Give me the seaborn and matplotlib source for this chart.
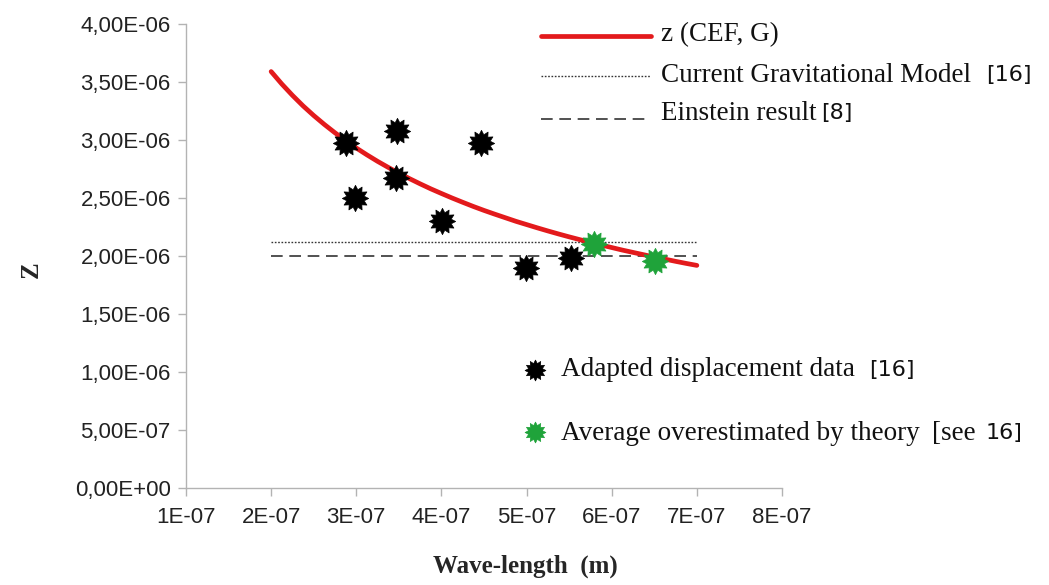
import matplotlib
matplotlib.use("Agg")
import matplotlib.pyplot as plt
from matplotlib.lines import Line2D
from matplotlib.path import Path
from matplotlib.ticker import FuncFormatter, MultipleLocator
import numpy as np
import seaborn as sns

# Measured displacement data (wavelength in m, z dimensionless)
data_wavelength = [2.88e-7, 2.98e-7, 3.48e-7, 3.47e-7, 4.01e-7, 4.46e-7, 4.99e-7, 5.52e-7]
data_z = [2.97e-6, 2.50e-6, 3.08e-6, 2.67e-6, 2.30e-6, 2.97e-6, 1.90e-6, 1.98e-6]

# Averages overestimated by theory
avg_wavelength = [5.79e-7, 6.51e-7]
avg_z = [2.10e-6, 1.96e-6]

# z (CEF, G) curve
cef_wavelength = [2.000e-7, 2.125e-7, 2.250e-7, 2.375e-7, 2.500e-7, 2.625e-7, 2.750e-7,
                  2.875e-7, 3.000e-7, 3.125e-7, 3.250e-7, 3.375e-7, 3.500e-7, 3.625e-7,
                  3.750e-7, 3.875e-7, 4.000e-7, 4.125e-7, 4.250e-7, 4.375e-7, 4.500e-7,
                  4.625e-7, 4.750e-7, 4.875e-7, 5.000e-7, 5.125e-7, 5.250e-7, 5.375e-7,
                  5.500e-7, 5.625e-7, 5.750e-7, 5.875e-7, 6.000e-7, 6.125e-7, 6.250e-7,
                  6.375e-7, 6.500e-7, 6.625e-7, 6.750e-7, 6.875e-7, 7.000e-7]
cef_z = [3.590e-6, 3.483e-6, 3.385e-6, 3.294e-6, 3.211e-6, 3.134e-6, 3.062e-6,
         2.994e-6, 2.931e-6, 2.872e-6, 2.816e-6, 2.764e-6, 2.714e-6, 2.667e-6,
         2.622e-6, 2.579e-6, 2.539e-6, 2.500e-6, 2.463e-6, 2.427e-6, 2.393e-6,
         2.361e-6, 2.330e-6, 2.299e-6, 2.271e-6, 2.243e-6, 2.216e-6, 2.190e-6,
         2.165e-6, 2.141e-6, 2.117e-6, 2.095e-6, 2.073e-6, 2.051e-6, 2.031e-6,
         2.011e-6, 1.991e-6, 1.973e-6, 1.954e-6, 1.936e-6, 1.919e-6]

# Reference levels
ref_wavelength = [2.0e-7, 7.0e-7]
gravitational_z = [2.12e-6, 2.12e-6]
einstein_z = [2.00e-6, 2.00e-6]

W, H = 1049, 585
sns.set_theme(style="white")
plt.rcParams["font.family"] = ["Liberation Sans", "DejaVu Sans"]

fig = plt.figure(figsize=(W / 100, H / 100), dpi=100)
ax = fig.add_axes([186 / W, 1 - 488 / H, (782 - 186) / W, (488 - 24) / H])

RED = "#e31a1c"
GREEN = "#1fa33a"
GRAY_LINE = "#333333"

# Sunburst marker: a round body with twelve short rays
_n = 12
_ang = np.pi / 2 + np.arange(2 * _n) * np.pi / _n
_rad = np.where(np.arange(2 * _n) % 2 == 0, 1.0, 0.68)
_verts = np.column_stack([_rad * np.cos(_ang), _rad * np.sin(_ang)])
SUNBURST = Path(np.vstack([_verts, _verts[:1]]), closed=True)

sns.lineplot(x=ref_wavelength, y=gravitational_z, ax=ax, color=GRAY_LINE,
             lw=1.0, linestyle=(0, (1.2, 1.2)))
sns.lineplot(x=ref_wavelength, y=einstein_z, ax=ax, color=GRAY_LINE,
             lw=1.2, linestyle=(0, (7, 4)))
sns.lineplot(x=cef_wavelength, y=cef_z, ax=ax, color=RED, lw=3.4)
sns.scatterplot(x=data_wavelength, y=data_z, ax=ax, color="black",
                marker=SUNBURST, s=360, linewidth=0.5, edgecolor="black", zorder=5)
sns.scatterplot(x=avg_wavelength, y=avg_z, ax=ax, color=GREEN,
                marker=SUNBURST, s=360, linewidth=0.5, edgecolor=GREEN, zorder=5)

ax.set_xlim(1e-7, 8e-7)
ax.set_ylim(0, 4e-6)
ax.xaxis.set_major_locator(MultipleLocator(1e-7))
ax.yaxis.set_major_locator(MultipleLocator(5e-7))


def y_fmt(v, _):
    m, e = f"{v:.2E}".split("E")
    return f"{m.replace('.', ',')}E{e}"


def x_fmt(v, _):
    m, e = f"{v:.0E}".split("E")
    return f"{m}E{e}"


ax.yaxis.set_major_formatter(FuncFormatter(y_fmt))
ax.xaxis.set_major_formatter(FuncFormatter(x_fmt))

for side in ("top", "right"):
    ax.spines[side].set_visible(False)
for side in ("left", "bottom"):
    ax.spines[side].set_color("#b3b3b3")
    ax.spines[side].set_linewidth(1.0)
ax.tick_params(axis="both", which="major", direction="out", length=6,
               width=1.0, color="#b3b3b3", labelsize=16, labelcolor="#222222",
               left=True, bottom=True)
ax.tick_params(axis="y", pad=5)
ax.tick_params(axis="x", pad=8)
ax.set_facecolor("none")

ax.set_xlabel("Wave-length  (m)", fontfamily="Liberation Serif",
              fontweight="bold", fontsize=18, va="center")
ax.set_ylabel("Z", fontfamily="Liberation Serif", fontweight="bold",
              fontsize=18, va="center")
ax.xaxis.set_label_coords((525 - 186) / 596, (488 - 566) / 464)
ax.yaxis.set_label_coords((31 - 186) / 596, (488 - 270) / 464)

# Legend drawn piecewise so serif labels can carry sans-serif references
SERIF = "Liberation Serif"
SANS = "DejaVu Sans"
LEG_SIZE = 19.5
REF_SIZE = 16


def fx(px):
    return px / W


def fy(py):
    return 1 - py / H


def place_pieces(x0, y, pieces, renderer):
    x = x0
    for txt, family, size, gap in pieces:
        t = fig.text(fx(x), fy(y), txt, fontfamily=family, fontsize=size,
                     va="center", ha="left", color="#111111")
        bb = t.get_window_extent(renderer=renderer)
        x += bb.width + gap


renderer = fig.canvas.get_renderer()

fig.add_artist(Line2D([fx(541), fx(651)], [fy(36), fy(36)], color=RED, lw=3.4,
                      transform=fig.transFigure))
fig.add_artist(Line2D([fx(541), fx(651)], [fy(76), fy(76)], color=GRAY_LINE, lw=1.0,
                      linestyle=(0, (1.2, 1.2)), transform=fig.transFigure))
fig.add_artist(Line2D([fx(541), fx(651)], [fy(119), fy(119)], color=GRAY_LINE, lw=1.2,
                      linestyle=(0, (7, 4)), transform=fig.transFigure))
fig.add_artist(Line2D([fx(535)], [fy(370)], color="black", marker=SUNBURST,
                      markersize=15, markeredgewidth=0.5, linestyle="none",
                      transform=fig.transFigure))
fig.add_artist(Line2D([fx(535)], [fy(432)], color=GREEN, marker=SUNBURST,
                      markersize=15, markeredgewidth=0.5, markeredgecolor=GREEN,
                      linestyle="none", transform=fig.transFigure))

place_pieces(661, 35, [("z (CEF, G)", SERIF, LEG_SIZE, 0)], renderer)
place_pieces(661, 75, [("Current Gravitational Model", SERIF, LEG_SIZE, 15),
                       ("[16]", SANS, REF_SIZE, 0)], renderer)
place_pieces(661, 113, [("Einstein result", SERIF, LEG_SIZE, 5),
                        ("[8]", SANS, REF_SIZE, 0)], renderer)
place_pieces(561, 370, [("Adapted displacement data", SERIF, LEG_SIZE, 14),
                        ("[16]", SANS, REF_SIZE, 0)], renderer)
place_pieces(561, 433, [("Average overestimated by theory", SERIF, LEG_SIZE, 12),
                        ("[see", SERIF, LEG_SIZE, 10),
                        ("16]", SANS, REF_SIZE, 0)], renderer)

fig.savefig("out.png", dpi=100, facecolor="white")
